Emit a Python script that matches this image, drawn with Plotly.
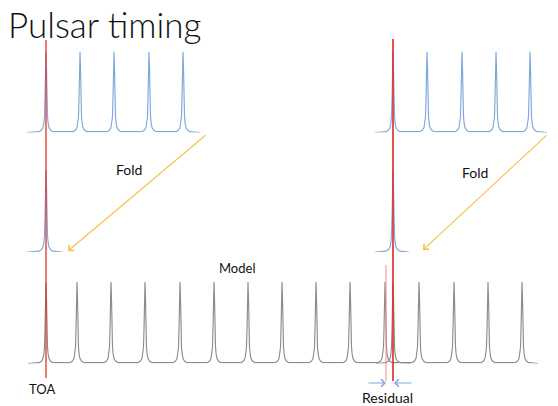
import plotly.graph_objects as go

# ---- data (x in horizontal pixel-like time units) ----
top_left_peaks = [46, 80, 114, 149, 183]
top_left_span = [27, 200]
top_right_peaks = [393, 427, 462, 496, 530]
top_right_span = [375, 547]
fold_left_peak = [46]
fold_left_span = [28, 62]
fold_right_peak = [393]
fold_right_span = [375, 409]
model_peaks = [46, 77, 111, 145, 180, 214, 248, 282, 316, 350, 385, 419, 454, 488, 522]
model_span = [28, 538]
observed_peak = [393]
observed_span = [376, 410]

# pulse template (offset, relative height)
tmpl_off = [-7, -4.5, -3, -2.2, -1.5, -1.0, -0.5, 0, 0.5, 1.0, 1.5, 2.2, 3, 4.5, 7]
tmpl_h = [0.01, 0.03, 0.06, 0.11, 0.2, 0.42, 0.8, 1.0, 0.8, 0.42, 0.2, 0.11, 0.06, 0.03, 0.01]

W, H = 558, 406
BLUE = "#7fa7db"
GRAY = "#8c8c8c"
RED = "#e3312b"
LRED = "#f08c8c"
YEL = "#f5c243"
ARB = "#7fa7db"


def train(peaks, span):
    xs, ys = [span[0]], [0.0]
    for p in peaks:
        for o, h in zip(tmpl_off, tmpl_h):
            xs.append(p + o)
            ys.append(h)
    xs.append(span[1])
    ys.append(0.0)
    return xs, ys


def dom(base_px, top_px):
    return [1 - base_px / H, 1 - top_px / H]


fig = go.Figure()
# invisible anchor trace for the full-page reference axis
fig.add_trace(go.Scatter(x=[0], y=[0], mode="markers", yaxis="y",
                         marker=dict(opacity=0), hoverinfo="skip", showlegend=False))

panels = [
    (top_left_peaks, top_left_span, "y2", BLUE),
    (top_right_peaks, top_right_span, "y2", BLUE),
    (fold_left_peak, fold_left_span, "y3", BLUE),
    (fold_right_peak, fold_right_span, "y3", BLUE),
    (model_peaks, model_span, "y4", GRAY),
    (observed_peak, observed_span, "y4", GRAY),
]
for peaks, span, ya, col in panels:
    xs, ys = train(peaks, span)
    fig.add_trace(go.Scatter(x=xs, y=ys, mode="lines", yaxis=ya,
                             line=dict(color=col, width=1.15),
                             hoverinfo="skip", showlegend=False))

hidden = dict(visible=False, showgrid=False, zeroline=False, anchor="x")
fig.update_layout(
    width=W, height=H, autosize=False,
    margin=dict(l=0, r=0, t=0, b=0),
    paper_bgcolor="white", plot_bgcolor="white",
    xaxis=dict(range=[0, W], domain=[0, 1], visible=False, showgrid=False, zeroline=False),
    yaxis=dict(range=[H, 0], domain=[0, 1], **hidden),
    yaxis2=dict(range=[0, 1], domain=dom(132.5, 51.5), **hidden),
    yaxis3=dict(range=[0, 1], domain=dom(252, 170), **hidden),
    yaxis4=dict(range=[0, 1], domain=dom(363.5, 282), **hidden),
    showlegend=False,
)

# red TOA lines
fig.add_shape(type="line", xref="x", yref="y", x0=46, x1=46, y0=40, y1=378,
              line=dict(color=RED, width=1.3))
fig.add_shape(type="line", xref="x", yref="y", x0=393, x1=393, y0=39, y1=381,
              line=dict(color=RED, width=1.7))
fig.add_shape(type="line", xref="x", yref="y", x0=386, x1=386, y0=265, y1=381,
              line=dict(color=LRED, width=1))

# fold arrows
for (x0, y0, x1, y1) in [(207, 134, 68, 251), (548, 134, 423, 250)]:
    fig.add_annotation(x=x1, y=y1, ax=x0, ay=y0, xref="x", yref="y",
                       axref="x", ayref="y", text="", showarrow=True,
                       arrowhead=4, arrowsize=1.3, arrowwidth=1.1, arrowcolor=YEL)

# residual arrows
for (x0, x1) in [(367, 386), (413, 394)]:
    fig.add_annotation(x=x1, y=383, ax=x0, ay=383, xref="x", yref="y",
                       axref="x", ayref="y", text="", showarrow=True,
                       arrowhead=4, arrowsize=1.3, arrowwidth=1.1, arrowcolor=ARB)

FONT = "Lato, Open Sans, sans-serif"
labels = [("Fold", 129, 169, 14), ("Fold", 475, 172, 14), ("Model", 237, 268, 13),
          ("TOA", 42, 389, 13), ("Residual", 387, 397, 14)]
for t, x, y, s in labels:
    fig.add_annotation(x=x, y=y, xref="x", yref="y", text=t, showarrow=False,
                       xanchor="center", yanchor="middle",
                       font=dict(family=FONT, size=s, color="#111111"))

fig.add_annotation(x=6, y=24, xref="x", yref="y", text="Pulsar timing",
                   showarrow=False, xanchor="left", yanchor="middle",
                   font=dict(family=FONT, size=35, color="#111111", weight=300))

fig.write_html("out.html", config={"displayModeBar": False},
               post_script="document.body.style.margin='0px';")
